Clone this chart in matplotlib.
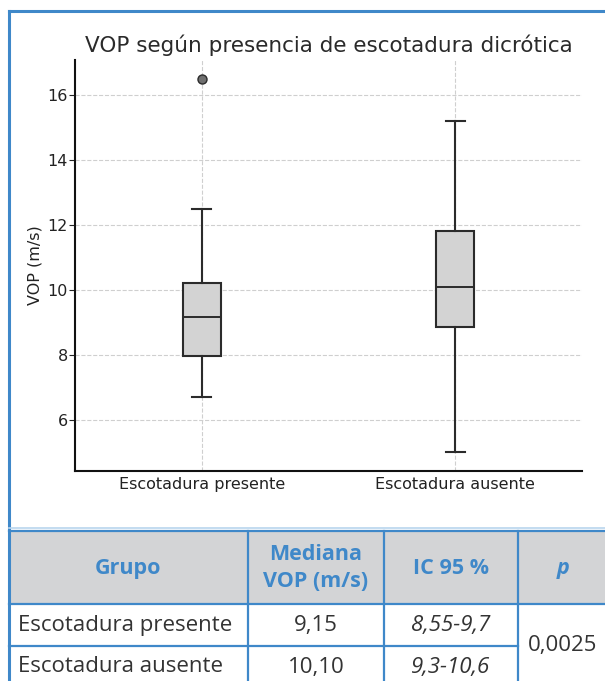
import matplotlib
matplotlib.use("Agg")
import matplotlib.pyplot as plt
from matplotlib.lines import Line2D
from matplotlib.patches import Rectangle

# ---------------- data ----------------
groups = ["Escotadura presente", "Escotadura ausente"]
whis_lo = [6.7, 5.0]
q1 = [7.95, 8.85]
medians = [9.15, 10.1]
q3 = [10.2, 11.8]
whis_hi = [12.5, 15.2]
fliers = [[16.5], []]
y_ticks = [6, 8, 10, 12, 14, 16]

table_header = ["Grupo", "Mediana\nVOP (m/s)", "IC 95 %", "p"]
table_groups = ["Escotadura presente", "Escotadura ausente"]
table_medians = ["9,15", "10,10"]
table_ci = ["8,55-9,7", "9,3-10,6"]
table_p = "0,0025"

# ---------------- figure ----------------
W, H = 605, 681
fig = plt.figure(figsize=(W / 100, H / 100), dpi=100)
fig.patch.set_facecolor("white")

def fx(x):
    return x / W

def fy(y):
    return 1 - y / H

ax = fig.add_axes([fx(75), fy(471), fx(582) - fx(75), fy(60) - fy(471)])
stats = []
for i, g in enumerate(groups):
    stats.append(dict(label=g, whislo=whis_lo[i], q1=q1[i], med=medians[i],
                      q3=q3[i], whishi=whis_hi[i], fliers=fliers[i]))
ax.bxp(stats, positions=[1, 2], widths=0.15, patch_artist=True,
       boxprops=dict(facecolor="#d3d3d3", edgecolor="#2b2b2b", linewidth=1.5),
       medianprops=dict(color="#2b2b2b", linewidth=1.4),
       whiskerprops=dict(color="#2b2b2b", linewidth=1.5),
       capprops=dict(color="#2b2b2b", linewidth=1.5),
       flierprops=dict(marker="o", markerfacecolor="#707070",
                       markeredgecolor="#2b2b2b", markersize=6.5))
ax.set_xlim(0.5, 2.5)
ax.set_ylim(4.425, 17.075)
ax.set_yticks(y_ticks)
ax.grid(True, linestyle="--", color="#cfcfcf", linewidth=0.8)
ax.set_axisbelow(True)
for s in ["top", "right"]:
    ax.spines[s].set_visible(False)
for s in ["left", "bottom"]:
    ax.spines[s].set_linewidth(1.5)
    ax.spines[s].set_color("#111111")
ax.tick_params(axis="x", length=0, labelsize=11.5, pad=4, colors="#222222")
ax.tick_params(axis="y", length=4, labelsize=11.5, pad=1, colors="#222222")
ax.set_ylabel("VOP (m/s)", fontsize=11.5, color="#222222", labelpad=4)
ax.set_title("VOP según presencia de escotadura dicrótica", fontsize=15.5,
             color="#2a2a2a", pad=6)

# ---------------- frame & table overlay ----------------
ov = fig.add_axes([0, 0, 1, 1], zorder=5)
ov.set_xlim(0, W)
ov.set_ylim(H, 0)
ov.axis("off")
ov.patch.set_alpha(0)

blue = "#3f88c9"
# outer frame
ov.add_line(Line2D([8.7, W], [10.7, 10.7], color=blue, lw=2.2))
ov.add_line(Line2D([8.7, 8.7], [10.7, H], color=blue, lw=2.2))
ov.add_line(Line2D([8.7, W], [528, 528], color="#b9d5ee", lw=1.2))

cols = [8.7, 248, 384, 518, 640]
rows = [530.5, 604, 646, 688]
ov.add_patch(Rectangle((cols[0], rows[0]), W - cols[0], rows[1] - rows[0],
                       facecolor="#d3d4d6", edgecolor="none"))
for y in rows[:2]:
    ov.add_line(Line2D([cols[0], W], [y, y], color=blue, lw=1.6))
ov.add_line(Line2D([cols[0], cols[3]], [rows[2], rows[2]], color=blue, lw=1.6))
for x in cols[1:4]:
    ov.add_line(Line2D([x, x], [rows[0], H], color=blue, lw=1.6))

tfont = "Open Sans"
hc = [(cols[i] + cols[i + 1]) / 2 for i in range(3)] + [563]
hy = (rows[0] + rows[1]) / 2 + 1
for i, t in enumerate(table_header):
    ov.text(hc[i], hy, t, ha="center", va="center", family=tfont,
            fontsize=15.5, fontweight="bold", color=blue,
            style="italic" if t == "p" else "normal", linespacing=1.35)

txt = "#333333"
for r in range(2):
    yc = (rows[r + 1] + rows[r + 2]) / 2
    ov.text(18, yc, table_groups[r], ha="left", va="center", family=tfont,
            fontsize=16, color=txt)
    ov.text(hc[1], yc, table_medians[r], ha="center", va="center",
            family=tfont, fontsize=16, color=txt)
    ov.text(hc[2], yc, table_ci[r], ha="center", va="center", family=tfont,
            fontsize=16, color=txt, style="italic")
ov.text(hc[3], rows[2], table_p, ha="center", va="center", family=tfont,
        fontsize=16, color=txt)

fig.savefig("out.png", dpi=100)
